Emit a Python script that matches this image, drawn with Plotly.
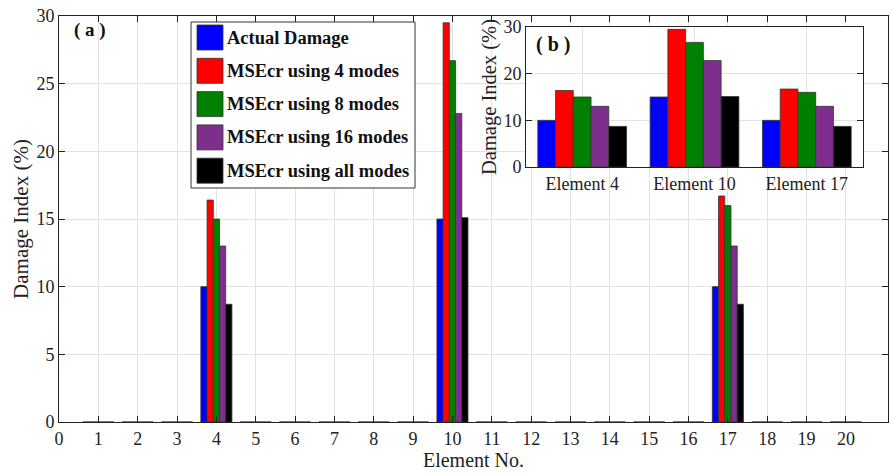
import plotly.graph_objects as go

# ---------------- data ----------------
elements = list(range(1, 21))
series_names = ["Actual Damage", "MSEcr using 4 modes", "MSEcr using 8 modes",
                "MSEcr using 16 modes", "MSEcr using all modes"]
colors = ["#0000ff", "#ff0000", "#008000", "#7e2f8e", "#000000"]

damaged_elements = [4, 10, 17]
actual_damage = [10.0, 15.0, 10.0]
msecr_4_modes = [16.4, 29.5, 16.7]
msecr_8_modes = [15.0, 26.7, 16.0]
msecr_16_modes = [13.0, 22.8, 13.0]
msecr_all_modes = [8.7, 15.1, 8.7]

inset_labels = ["Element 4", "Element 10", "Element 17"]

series_values = [actual_damage, msecr_4_modes, msecr_8_modes, msecr_16_modes, msecr_all_modes]

# plot-area pixel geometry (for annotations / legend placement)
L, R, T, B = 59, 888, 16, 422
W, H = 893, 474


def px(x):
    return (x - L) / (R - L)


def py(y):
    return (B - y) / (B - T)


FONT = "Liberation Serif"

fig = go.Figure()

for name, vals, col in zip(series_names, series_values, colors):
    full = [vals[damaged_elements.index(e)] if e in damaged_elements else 0 for e in elements]
    fig.add_trace(go.Bar(x=elements, y=full, name=name, marker_color=col,
                         marker_line=dict(color="#333333", width=0.8),
                         showlegend=False, xaxis="x", yaxis="y"))

for name, vals, col in zip(series_names, series_values, colors):
    fig.add_trace(go.Bar(x=inset_labels, y=vals, name=name, marker_color=col,
                         marker_line=dict(color="#333333", width=0.8),
                         showlegend=False, xaxis="x2", yaxis="y2"))

grid = "#e3e3e3"
fig.update_layout(
    width=W, height=H,
    margin=dict(l=L, r=W - R, t=T, b=H - B),
    paper_bgcolor="white", plot_bgcolor="white",
    barmode="group", bargap=0.21, bargroupgap=0,
    font=dict(family=FONT, size=18, color="#222222"),
    xaxis=dict(range=[0, 21.07], tickvals=list(range(0, 21)), ticks="inside", ticklen=6,
               tickcolor="#222", showline=True, linecolor="#222", linewidth=1, mirror="ticks",
               showgrid=True, gridcolor=grid, zeroline=False,
               title=dict(text="Element No.", font=dict(size=20), standoff=4),
               tickfont=dict(size=18)),
    yaxis=dict(range=[0, 30], dtick=5, ticks="inside", ticklen=6, tickcolor="#222",
               showline=True, linecolor="#222", linewidth=1, mirror="ticks",
               showgrid=True, gridcolor=grid, zeroline=False,
               title=dict(text="Damage Index (%)", font=dict(size=21), standoff=2),
               tickfont=dict(size=18)),
    xaxis2=dict(domain=[px(526), px(863)], anchor="y2", type="category",
                ticks="", showline=True, linecolor="#222", mirror=True,
                showgrid=True, gridcolor=grid, tickfont=dict(size=18)),
    yaxis2=dict(domain=[py(167), py(27)], anchor="x2", range=[0, 30], dtick=10,
                ticks="inside", ticklen=6, tickcolor="#222", showline=True, linecolor="#222",
                mirror="ticks", showgrid=True, gridcolor=grid, zeroline=False,
                title=dict(text="Damage Index (%)", font=dict(size=20.5), standoff=1),
                tickfont=dict(size=18)),
)

shapes = [
    # inset white background, drawn in the inset subplot layer
    dict(type="rect", xref="x2 domain", yref="y2 domain", x0=0, x1=1, y0=0, y1=1,
         fillcolor="white", line=dict(width=0), layer="below"),
    # legend frame
    dict(type="rect", xref="paper", yref="paper", x0=px(191), x1=px(415), y0=py(188), y1=py(22),
         fillcolor="white", line=dict(color="#333333", width=1), layer="above"),
]
annotations = []
for i, (name, col) in enumerate(zip(series_names, colors)):
    top = 25 + i * 33.3
    shapes.append(dict(type="rect", xref="paper", yref="paper", x0=px(197), x1=px(223),
                       y0=py(top + 25), y1=py(top), fillcolor=col,
                       line=dict(color="#333333", width=0.8), layer="above"))
    annotations.append(dict(xref="paper", yref="paper", x=px(225), y=py(top + 12.5),
                            xanchor="left", yanchor="middle", showarrow=False, text="<b>%s</b>" % name,
                            font=dict(family=FONT, size=18.5, color="#111")))

annotations.append(dict(xref="paper", yref="paper", x=px(72), y=py(30), xanchor="left",
                        yanchor="middle", showarrow=False, text="<b>( a )</b>",
                        font=dict(family=FONT, size=19, color="#111")))
annotations.append(dict(xref="paper", yref="paper", x=px(534), y=py(45), xanchor="left",
                        yanchor="middle", showarrow=False, text="<b>( b )</b>",
                        font=dict(family=FONT, size=20, color="#111")))

fig.update_layout(shapes=shapes, annotations=annotations)

fig.write_html("out.html")
